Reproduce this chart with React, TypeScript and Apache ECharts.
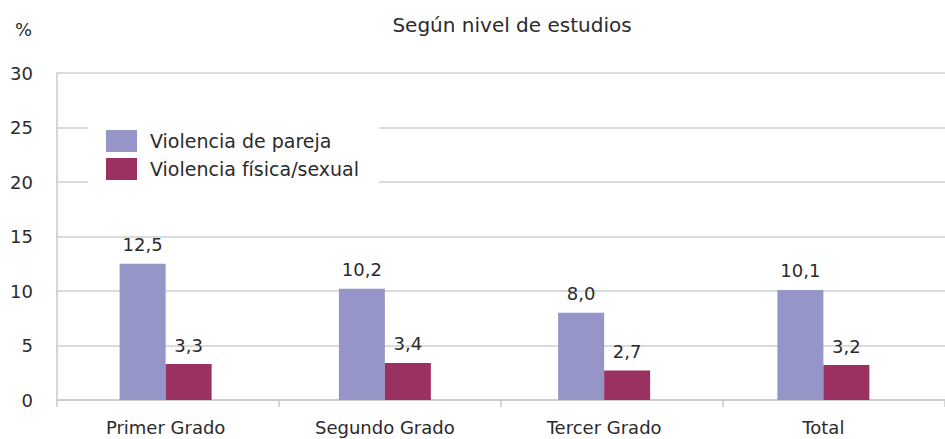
import React, { useEffect, useRef } from "react";
import * as echarts from "echarts";

const categories = ["Primer Grado", "Segundo Grado", "Tercer Grado", "Total"];
const parejaValues = [12.5, 10.2, 8.0, 10.1];
const fisicaValues = [3.3, 3.4, 2.7, 3.2];
const seriesNames = ["Violencia de pareja", "Violencia física/sexual"];
const titleText = "Según nivel de estudios";
const unitText = "%";

const FONT = "DejaVu Sans";
const fmt = (v: number) => v.toFixed(1).replace(".", ",");

export default function App() {
  const ref = useRef<HTMLDivElement>(null);
  useEffect(() => {
    if (!ref.current) return;
    const chart = echarts.init(ref.current, undefined, { renderer: "svg" });
    const labelStyle = {
      show: true,
      position: "top" as const,
      distance: 10,
      fontFamily: FONT,
      fontSize: 18,
      color: "#2b2b2b",
      formatter: (p: any) => fmt(p.value),
    };
    chart.setOption({
      animation: false,
      textStyle: { fontFamily: FONT },
      title: {
        text: titleText,
        left: 507,
        top: 10,
        textAlign: "center",
        textStyle: { fontFamily: FONT, fontSize: 20, fontWeight: "normal", color: "#2b2b2b" },
      },
      graphic: [
        {
          type: "text",
          left: 15,
          top: 20,
          style: { text: unitText, fontFamily: FONT, fontSize: 18, fill: "#2b2b2b" },
        },
      ],
      legend: {
        orient: "vertical",
        left: 88,
        top: 125,
        backgroundColor: "#ffffff",
        padding: [5, 20, 3, 18],
        itemWidth: 31,
        itemHeight: 22,
        itemGap: 6,
        icon: "rect",
        textStyle: { fontFamily: FONT, fontSize: 19, color: "#2b2b2b", padding: [0, 26, 0, 8] },
        data: seriesNames,
        z: 10,
      },
      grid: [
        { left: 56, width: 877, top: 73, bottom: 39, containLabel: false },
        { left: 57, right: -8, top: 73, bottom: 39, containLabel: false },
      ],
      xAxis: [
        {
          type: "category",
          gridIndex: 0,
          data: categories,
          axisLine: { show: false },
          axisTick: { show: false },
          axisLabel: { fontFamily: FONT, fontSize: 18, color: "#2b2b2b", margin: 18 },
        },
        {
          type: "category",
          gridIndex: 1,
          data: categories,
          axisLine: { show: true, lineStyle: { color: "#c9c9c9", width: 1.5 } },
          axisTick: { show: true, length: 7, lineStyle: { color: "#c9c9c9", width: 1.5 } },
          axisLabel: { show: false },
        },
      ],
      yAxis: [
        {
          type: "value",
          gridIndex: 0,
          min: 0,
          max: 30,
          interval: 5,
          axisLine: { show: false },
          axisTick: { show: false },
          splitLine: { show: false },
          axisLabel: { show: false },
        },
        {
          type: "value",
          gridIndex: 1,
          min: 0,
          max: 30,
          interval: 5,
          axisLine: { show: true, lineStyle: { color: "#c9c9c9", width: 1.5 } },
          axisTick: { show: false },
          splitLine: { show: true, lineStyle: { color: "#cfcfcf", width: 1.5 } },
          axisLabel: { fontFamily: FONT, fontSize: 18, color: "#2b2b2b", margin: 24 },
        },
      ],
      series: [
        {
          name: seriesNames[0],
          type: "bar",
          xAxisIndex: 0,
          yAxisIndex: 0,
          data: parejaValues,
          barWidth: 46,
          barGap: "0%",
          itemStyle: { color: "#9595c8" },
          label: labelStyle,
          z: 3,
        },
        {
          name: seriesNames[1],
          type: "bar",
          xAxisIndex: 0,
          yAxisIndex: 0,
          data: fisicaValues,
          barWidth: 46,
          barGap: "0%",
          itemStyle: { color: "#9b3163" },
          label: labelStyle,
          z: 3,
        },
      ],
    });
    return () => chart.dispose();
  }, []);
  return <div ref={ref} style={{ width: 945, height: 439, position: "absolute", left: 0, top: 0, background: "#fff" }} />;
}
